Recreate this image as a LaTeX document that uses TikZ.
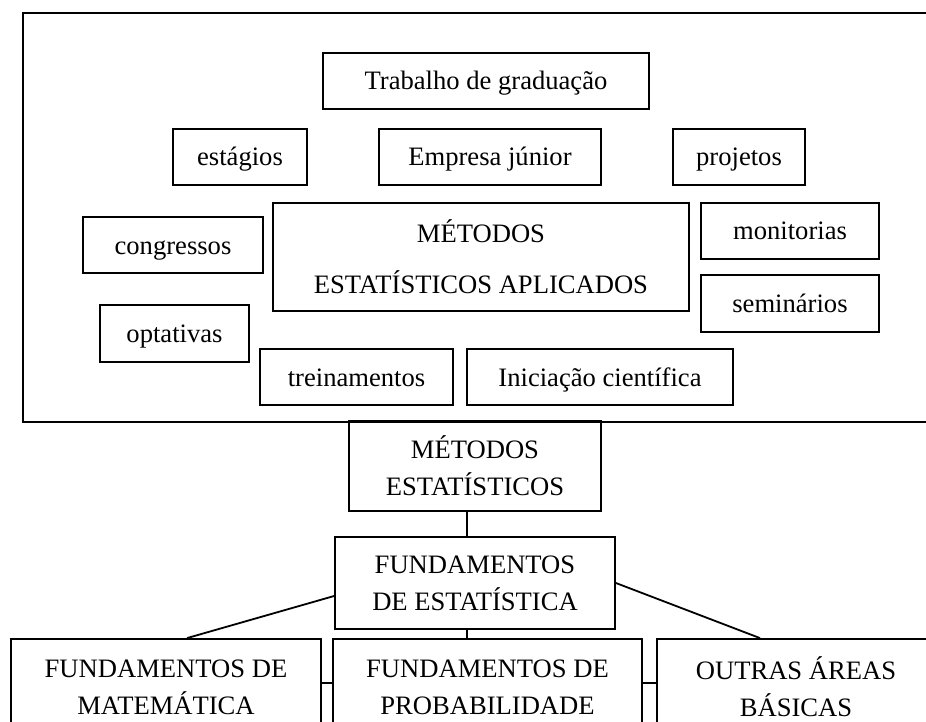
\documentclass[tikz,border=0pt]{standalone}
\usepackage{fontspec}
\setmainfont{Liberation Serif}
\tikzset{
  box/.style={draw, line width=1.8pt, inner sep=0pt, align=center, font=\fontsize{26.6}{37}\selectfont},
  one/.style={box, text height=22pt, text depth=4pt},
  link/.style={line width=1.8pt}
}
\begin{document}
\begin{tikzpicture}[x=1pt, y=-1pt]
\clip (0,0) rectangle (926,722);

% frame of the applied part
\draw[line width=1.8pt] (23,13) rectangle (945,422);

\node[one, minimum width=326pt, minimum height=56pt] (trab) at (486,81) {Trabalho de graduação};
\node[one, minimum width=134pt, minimum height=56pt] (est) at (240,157) {estágios};
\node[one, minimum width=222pt, minimum height=56pt] (emp) at (490,157) {Empresa júnior};
\node[one, minimum width=132pt, minimum height=56pt] (proj) at (739,157) {projetos};
\node[one, minimum width=180pt, minimum height=56pt] (cong) at (173,245) {congressos};
\node[box, minimum width=416pt, minimum height=108pt] (metap) at (481,257) {MÉTODOS\\[14pt]ESTATÍSTICOS APLICADOS};
\node[one, minimum width=178pt, minimum height=56pt] (mon) at (790,231) {monitorias};
\node[one, minimum width=178pt, minimum height=57pt] (sem) at (790,303.5) {seminários};
\node[one, minimum width=149pt, minimum height=57pt] (opt) at (174.5,333.5) {optativas};
\node[one, minimum width=193pt, minimum height=56pt] (trein) at (356.5,377) {treinamentos};
\node[one, minimum width=266pt, minimum height=56pt] (inic) at (600,377) {Iniciação científica};

% the base of the course
\node[box, minimum width=252pt, minimum height=90pt] (met) at (475,466) {MÉTODOS\\ESTATÍSTICOS};
\node[box, minimum width=280pt, minimum height=92pt] (fest) at (475,583) {FUNDAMENTOS\\DE ESTATÍSTICA};
\node[box, minimum width=310pt, minimum height=96pt] (mat) at (166,687) {FUNDAMENTOS DE\\MATEMÁTICA};
\node[box, minimum width=309pt, minimum height=96pt] (prob) at (487.5,687) {FUNDAMENTOS DE\\PROBABILIDADE};
\node[box, minimum width=278pt, minimum height=96pt] (outr) at (796,687) {OUTRAS ÁREAS\\BÁSICAS};

\draw[link] ([xshift=-8pt]met.south) -- ([xshift=-8pt]fest.north);
\draw[link] ([yshift=-13pt]fest.west) -- ([xshift=21pt]mat.north);
\draw[link] ([xshift=-8pt]fest.south) -- ([xshift=-20.5pt]prob.north);
\draw[link] (fest.east) -- ([xshift=-36pt]outr.north);
\draw[link] ([yshift=4pt]mat.east) -- ([yshift=4pt]prob.west);
\draw[link] ([yshift=4pt]prob.east) -- ([yshift=4pt]outr.west);

\end{tikzpicture}
\end{document}
